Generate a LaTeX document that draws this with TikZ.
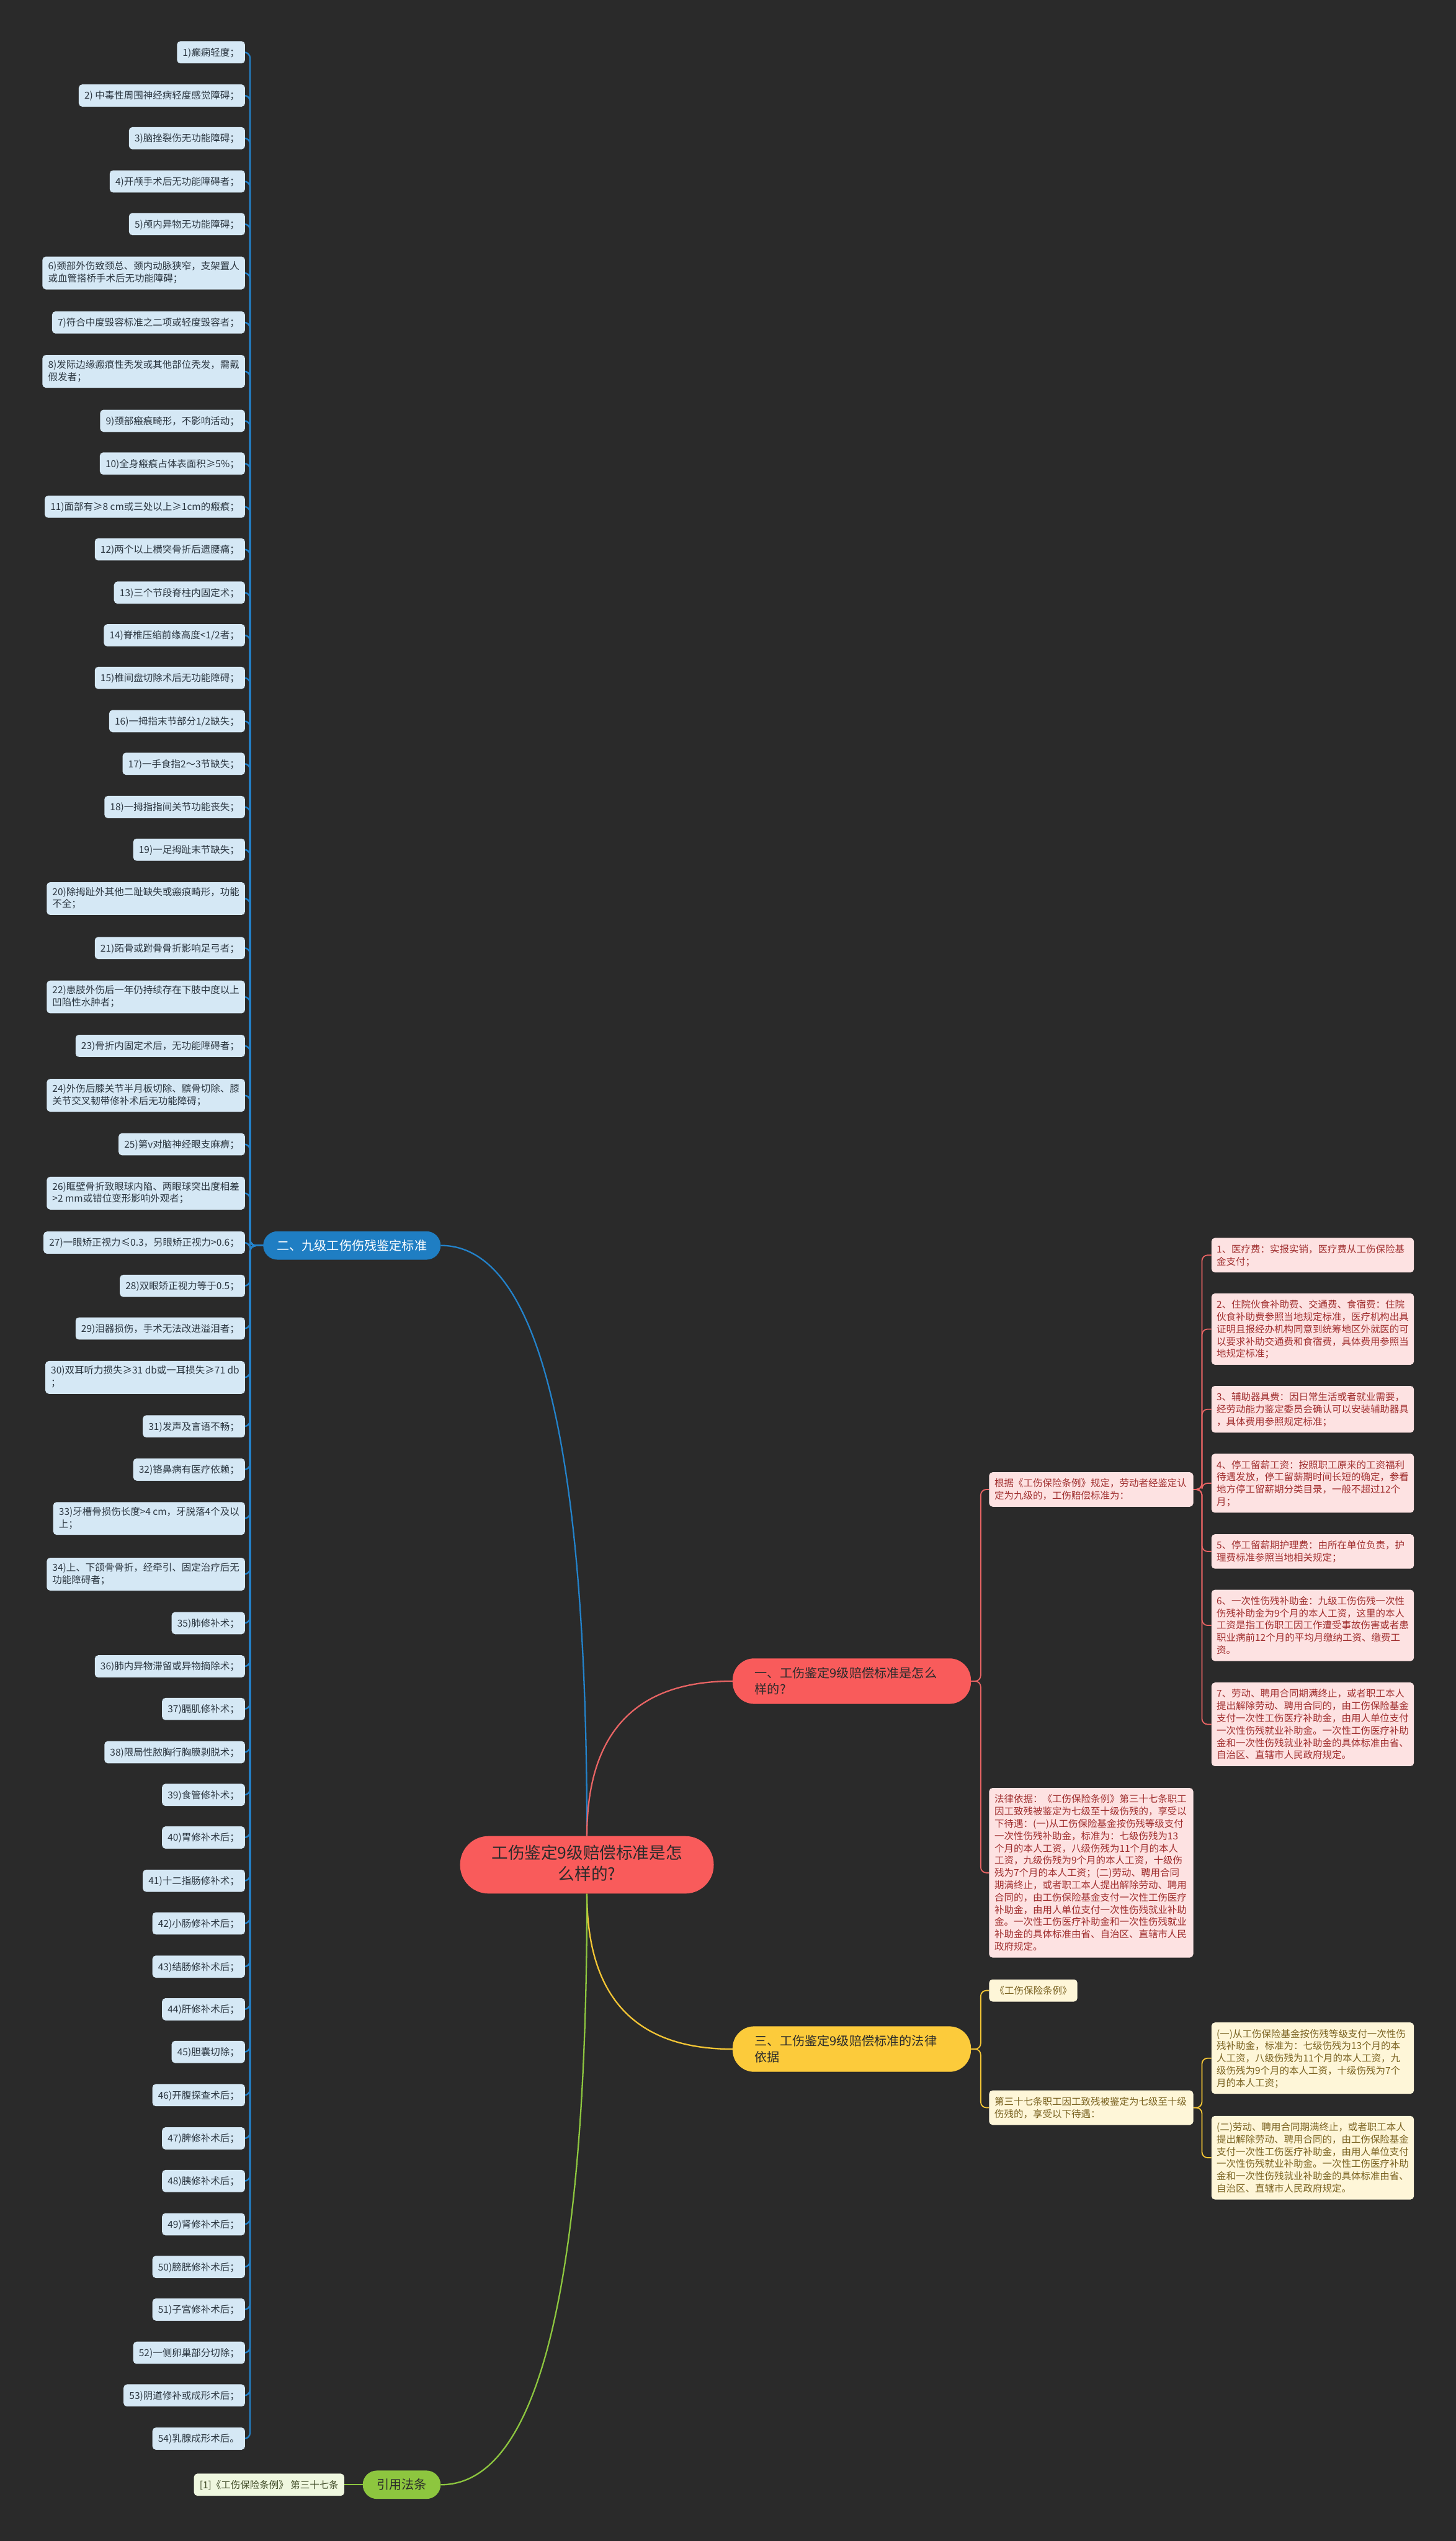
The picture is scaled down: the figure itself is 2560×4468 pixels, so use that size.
\documentclass[tikz,border=0pt]{standalone}
\usepackage{fontspec}
\setmainfont{Noto Sans CJK SC}
\usetikzlibrary{calc,backgrounds}
\definecolor{bg}{HTML}{2A2A2A}
\definecolor{lfill}{HTML}{D5E8F5}
\definecolor{ltext}{HTML}{2B3640}
\definecolor{blueline}{HTML}{2382CA}
\definecolor{bluefill}{HTML}{1F7EC3}
\definecolor{rootfill}{HTML}{F95B5B}
\definecolor{dtext}{HTML}{2B2B2B}
\definecolor{redline}{HTML}{E86464}
\definecolor{rfill}{HTML}{FDE2E2}
\definecolor{rtext}{HTML}{A02E2E}
\definecolor{ybranch}{HTML}{FCCB3B}
\definecolor{yline}{HTML}{F3C535}
\definecolor{yfill}{HTML}{FEF6D8}
\definecolor{ytext}{HTML}{7A6220}
\definecolor{gbranch}{HTML}{8DC63F}
\definecolor{gfill}{HTML}{EFF7DF}
\definecolor{gtext}{HTML}{3E4A26}
\newcommand\mystrut{\rule[\dimexpr 0.38em-0.5\baselineskip\relax]{0pt}{\baselineskip}}
\tikzset{
  nb/.style={font=\fontsize{16.9}{21.6}\selectfont, inner ysep=8.7, rounded corners=6,
    execute at begin node=\mystrut, execute at end node=\mystrut},
  litem/.style={nb, fill=lfill, text=ltext, align=left, inner xsep=10, anchor=east},
  rnode/.style={nb, fill=rfill, text=rtext, align=left, text width=338, inner xsep=9, anchor=west},
  rmid/.style={rnode, text width=340, inner xsep=9.5},
  ynode/.style={rnode, fill=yfill, text=ytext},
  ymid/.style={rmid, fill=yfill, text=ytext},
  yshort/.style={nb, fill=yfill, text=ytext, align=left, inner xsep=10, anchor=west},
  refnode/.style={nb, fill=gfill, text=gtext, align=left, inner xsep=10, anchor=east},
  bigbr/.style={font=\fontsize{22}{28.7}\selectfont, inner ysep=11.3, text=dtext,
    execute at begin node=\mystrut, execute at end node=\mystrut, rounded corners=38},
  brtwo/.style={bigbr, align=left, text width=341, inner xsep=39, anchor=west},
  brone/.style={bigbr, align=center, inner xsep=20, inner ysep=10.6, rounded corners=25, anchor=east},
  rootnode/.style={font=\fontsize{29}{37}\selectfont, fill=rootfill, text=dtext, align=center,
    minimum width=446, inner xsep=20, inner ysep=16, rounded corners=50,
    execute at begin node=\mystrut, execute at end node=\mystrut},
  bl/.style={draw=blueline, line width=2.6, rounded corners=10},
  rl/.style={draw=redline, line width=2, rounded corners=10},
  yl/.style={draw=yline, line width=2, rounded corners=10},
  gl/.style={draw=gbranch, line width=2},
  mainl/.style={line width=2.5},
}
\begin{document}
\begin{tikzpicture}[x=1pt,y=-1pt]
% root
\node[rootnode] (root) at (1032,3279) {工伤鉴定9级赔偿标准是怎\\么样的?};
% branches
\node[brtwo, fill=rootfill] (b1) at (1288,2956) {一、工伤鉴定9级赔偿标准是怎么\\样的?};
\node[brone, fill=bluefill, text=white, minimum width=312] (b2) at (775,2190) {二、九级工伤伤残鉴定标准};
\node[brtwo, fill=ybranch] (b3) at (1288,3603) {三、工伤鉴定9级赔偿标准的法律\\依据};
\node[brone, fill=gbranch, minimum width=137] (b4) at (775,4369) {引用法条};
% left items
\node[litem] (L1) at (431,92) {1)癫痫轻度；};
\node[litem] (L2) at (431,168) {2) 中毒性周围神经病轻度感觉障碍；};
\node[litem] (L3) at (431,243) {3)脑挫裂伤无功能障碍；};
\node[litem] (L4) at (431,319) {4)开颅手术后无功能障碍者；};
\node[litem] (L5) at (431,394) {5)颅内异物无功能障碍；};
\node[litem] (L6) at (431,480) {6)颈部外伤致颈总、颈内动脉狭窄，支架置人\\或血管搭桥手术后无功能障碍；};
\node[litem] (L7) at (431,567) {7)符合中度毁容标准之二项或轻度毁容者；};
\node[litem] (L8) at (431,653) {8)发际边缘瘢痕性秃发或其他部位秃发，需戴\\假发者；};
\node[litem] (L9) at (431,740) {9)颈部瘢痕畸形，不影响活动；};
\node[litem] (L10) at (431,815) {10)全身瘢痕占体表面积≥5\%；};
\node[litem] (L11) at (431,891) {11)面部有≥8 cm或三处以上≥1cm的瘢痕；};
\node[litem] (L12) at (431,966) {12)两个以上横突骨折后遗腰痛；};
\node[litem] (L13) at (431,1042) {13)三个节段脊柱内固定术；};
\node[litem] (L14) at (431,1117) {14)脊椎压缩前缘高度<1/2者；};
\node[litem] (L15) at (431,1192) {15)椎间盘切除术后无功能障碍；};
\node[litem] (L16) at (431,1268) {16)一拇指末节部分1/2缺失；};
\node[litem] (L17) at (431,1343) {17)一手食指2～3节缺失；};
\node[litem] (L18) at (431,1419) {18)一拇指指间关节功能丧失；};
\node[litem] (L19) at (431,1494) {19)一足拇趾末节缺失；};
\node[litem] (L20) at (431,1580) {20)除拇趾外其他二趾缺失或瘢痕畸形，功能\\不全；};
\node[litem] (L21) at (431,1667) {21)跖骨或跗骨骨折影响足弓者；};
\node[litem] (L22) at (431,1753) {22)患肢外伤后一年仍持续存在下肢中度以上\\凹陷性水肿者；};
\node[litem] (L23) at (431,1839) {23)骨折内固定术后，无功能障碍者；};
\node[litem] (L24) at (431,1926) {24)外伤后膝关节半月板切除、髌骨切除、膝\\关节交叉韧带修补术后无功能障碍；};
\node[litem] (L25) at (431,2012) {25)第v对脑神经眼支麻痹；};
\node[litem] (L26) at (431,2098) {26)眶壁骨折致眼球内陷、两眼球突出度相差\\>2 mm或错位变形影响外观者；};
\node[litem] (L27) at (431,2185) {27)一眼矫正视力≤0.3，另眼矫正视力>0.6；};
\node[litem] (L28) at (431,2261) {28)双眼矫正视力等于0.5；};
\node[litem] (L29) at (431,2336) {29)泪器损伤，手术无法改进溢泪者；};
\node[litem] (L30) at (431,2422) {30)双耳听力损失≥31 db或一耳损失≥71 db\\；};
\node[litem] (L31) at (431,2508) {31)发声及言语不畅；};
\node[litem] (L32) at (431,2584) {32)铬鼻病有医疗依赖；};
\node[litem] (L33) at (431,2670) {33)牙槽骨损伤长度>4 cm，牙脱落4个及以\\上；};
\node[litem] (L34) at (431,2768) {34)上、下颌骨骨折，经牵引、固定治疗后无\\功能障碍者；};
\node[litem] (L35) at (431,2854) {35)肺修补术；};
\node[litem] (L36) at (431,2930) {36)肺内异物滞留或异物摘除术；};
\node[litem] (L37) at (431,3005) {37)膈肌修补术；};
\node[litem] (L38) at (431,3081) {38)限局性脓胸行胸膜剥脱术；};
\node[litem] (L39) at (431,3156) {39)食管修补术；};
\node[litem] (L40) at (431,3231) {40)胃修补术后；};
\node[litem] (L41) at (431,3307) {41)十二指肠修补术；};
\node[litem] (L42) at (431,3382) {42)小肠修补术后；};
\node[litem] (L43) at (431,3458) {43)结肠修补术后；};
\node[litem] (L44) at (431,3533) {44)肝修补术后；};
\node[litem] (L45) at (431,3608) {45)胆囊切除；};
\node[litem] (L46) at (431,3684) {46)开腹探查术后；};
\node[litem] (L47) at (431,3760) {47)脾修补术后；};
\node[litem] (L48) at (431,3835) {48)胰修补术后；};
\node[litem] (L49) at (431,3911) {49)肾修补术后；};
\node[litem] (L50) at (431,3986) {50)膀胱修补术后；};
\node[litem] (L51) at (431,4061) {51)子宫修补术后；};
\node[litem] (L52) at (431,4137) {52)一侧卵巢部分切除；};
\node[litem] (L53) at (431,4212) {53)阴道修补或成形术后；};
\node[litem] (L54) at (431,4288) {54)乳腺成形术后。};
% reference
\node[refnode] (ref) at (605.5,4369) {[1]《工伤保险条例》 第三十七条};
% red side
\node[rmid] (m1) at (1739,2619) {根据《工伤保险条例》规定，劳动者经鉴定认\\定为九级的，工伤赔偿标准为：};
\node[rmid] (m2) at (1739,3293) {法律依据：《工伤保险条例》第三十七条职工\\因工致残被鉴定为七级至十级伤残的，享受以\\下待遇：(一)从工伤保险基金按伤残等级支付\\一次性伤残补助金，标准为：七级伤残为13\\个月的本人工资，八级伤残为11个月的本人\\工资，九级伤残为9个月的本人工资，十级伤\\残为7个月的本人工资；(二)劳动、聘用合同\\期满终止，或者职工本人提出解除劳动、聘用\\合同的，由工伤保险基金支付一次性工伤医疗\\补助金，由用人单位支付一次性伤残就业补助\\金。一次性工伤医疗补助金和一次性伤残就业\\补助金的具体标准由省、自治区、直辖市人民\\政府规定。};
\node[rnode] (r1) at (2130,2207) {1、医疗费：实报实销，医疗费从工伤保险基\\金支付；};
\node[rnode] (r2) at (2130,2337) {2、住院伙食补助费、交通费、食宿费：住院\\伙食补助费参照当地规定标准，医疗机构出具\\证明且报经办机构同意到统筹地区外就医的可\\以要求补助交通费和食宿费，具体费用参照当\\地规定标准；};
\node[rnode] (r3) at (2130,2478) {3、辅助器具费：因日常生活或者就业需要，\\经劳动能力鉴定委员会确认可以安装辅助器具\\，具体费用参照规定标准；};
\node[rnode] (r4) at (2130,2608) {4、停工留薪工资：按照职工原来的工资福利\\待遇发放，停工留薪期时间长短的确定，参看\\地方停工留薪期分类目录，一般不超过12个\\月；};
\node[rnode] (r5) at (2130,2728) {5、停工留薪期护理费：由所在单位负责，护\\理费标准参照当地相关规定；};
\node[rnode] (r6) at (2130,2858) {6、一次性伤残补助金：九级工伤伤残一次性\\伤残补助金为9个月的本人工资，这里的本人\\工资是指工伤职工因工作遭受事故伤害或者患\\职业病前12个月的平均月缴纳工资、缴费工\\资。};
\node[rnode] (r7) at (2130,3032) {7、劳动、聘用合同期满终止，或者职工本人\\提出解除劳动、聘用合同的，由工伤保险基金\\支付一次性工伤医疗补助金，由用人单位支付\\一次性伤残就业补助金。一次性工伤医疗补助\\金和一次性伤残就业补助金的具体标准由省、\\自治区、直辖市人民政府规定。};
% yellow side
\node[yshort] (y0) at (1739,3500) {《工伤保险条例》};
\node[ymid] (y1) at (1739,3706) {第三十七条职工因工致残被鉴定为七级至十级\\伤残的，享受以下待遇：};
\node[ynode] (ya) at (2130,3619) {(一)从工伤保险基金按伤残等级支付一次性伤\\残补助金，标准为：七级伤残为13个月的本\\人工资，八级伤残为11个月的本人工资，九\\级伤残为9个月的本人工资，十级伤残为7个\\月的本人工资；};
\node[ynode] (yb) at (2130,3794) {(二)劳动、聘用合同期满终止，或者职工本人\\提出解除劳动、聘用合同的，由工伤保险基金\\支付一次性工伤医疗补助金，由用人单位支付\\一次性伤残就业补助金。一次性工伤医疗补助\\金和一次性伤残就业补助金的具体标准由省、\\自治区、直辖市人民政府规定。};
% connectors
\begin{pgfonlayer}{background}
\fill[bg] (0,0) rectangle (2560,4468);
\draw[draw=blueline, mainl] (root.north) .. controls ($(root.north)!0.6667!(root.north |- b2.east)$) and ($(b2.east)!0.6667!(root.north |- b2.east)$) .. (b2.east);
\draw[draw=redline, mainl] (root.north) .. controls ($(root.north)!0.6667!(root.north |- b1.west)$) and ($(b1.west)!0.6667!(root.north |- b1.west)$) .. (b1.west);
\draw[draw=yline, mainl] (root.south) .. controls ($(root.south)!0.6667!(root.south |- b3.west)$) and ($(b3.west)!0.6667!(root.south |- b3.west)$) .. (b3.west);
\draw[draw=gbranch, mainl] (root.south) .. controls ($(root.south)!0.6667!(root.south |- b4.east)$) and ($(b4.east)!0.6667!(root.south |- b4.east)$) .. (b4.east);
\foreach \i in {1,...,54} \draw[bl] (b2.west) -- ++(-23,0) |- (L\i.east);
\draw[gl] (b4.west) -- (ref.east);
\foreach \n in {m1,m2} \draw[rl] (b1.east) -- ++(17,0) |- (\n.west);
\foreach \n in {r1,r2,r3,r4,r5,r6,r7} \draw[rl] (m1.east) -- ++(15,0) |- (\n.west);
\foreach \n in {y0,y1} \draw[yl] (b3.east) -- ++(17,0) |- (\n.west);
\foreach \n in {ya,yb} \draw[yl] (y1.east) -- ++(15,0) |- (\n.west);
\end{pgfonlayer}
\end{tikzpicture}
\end{document}
